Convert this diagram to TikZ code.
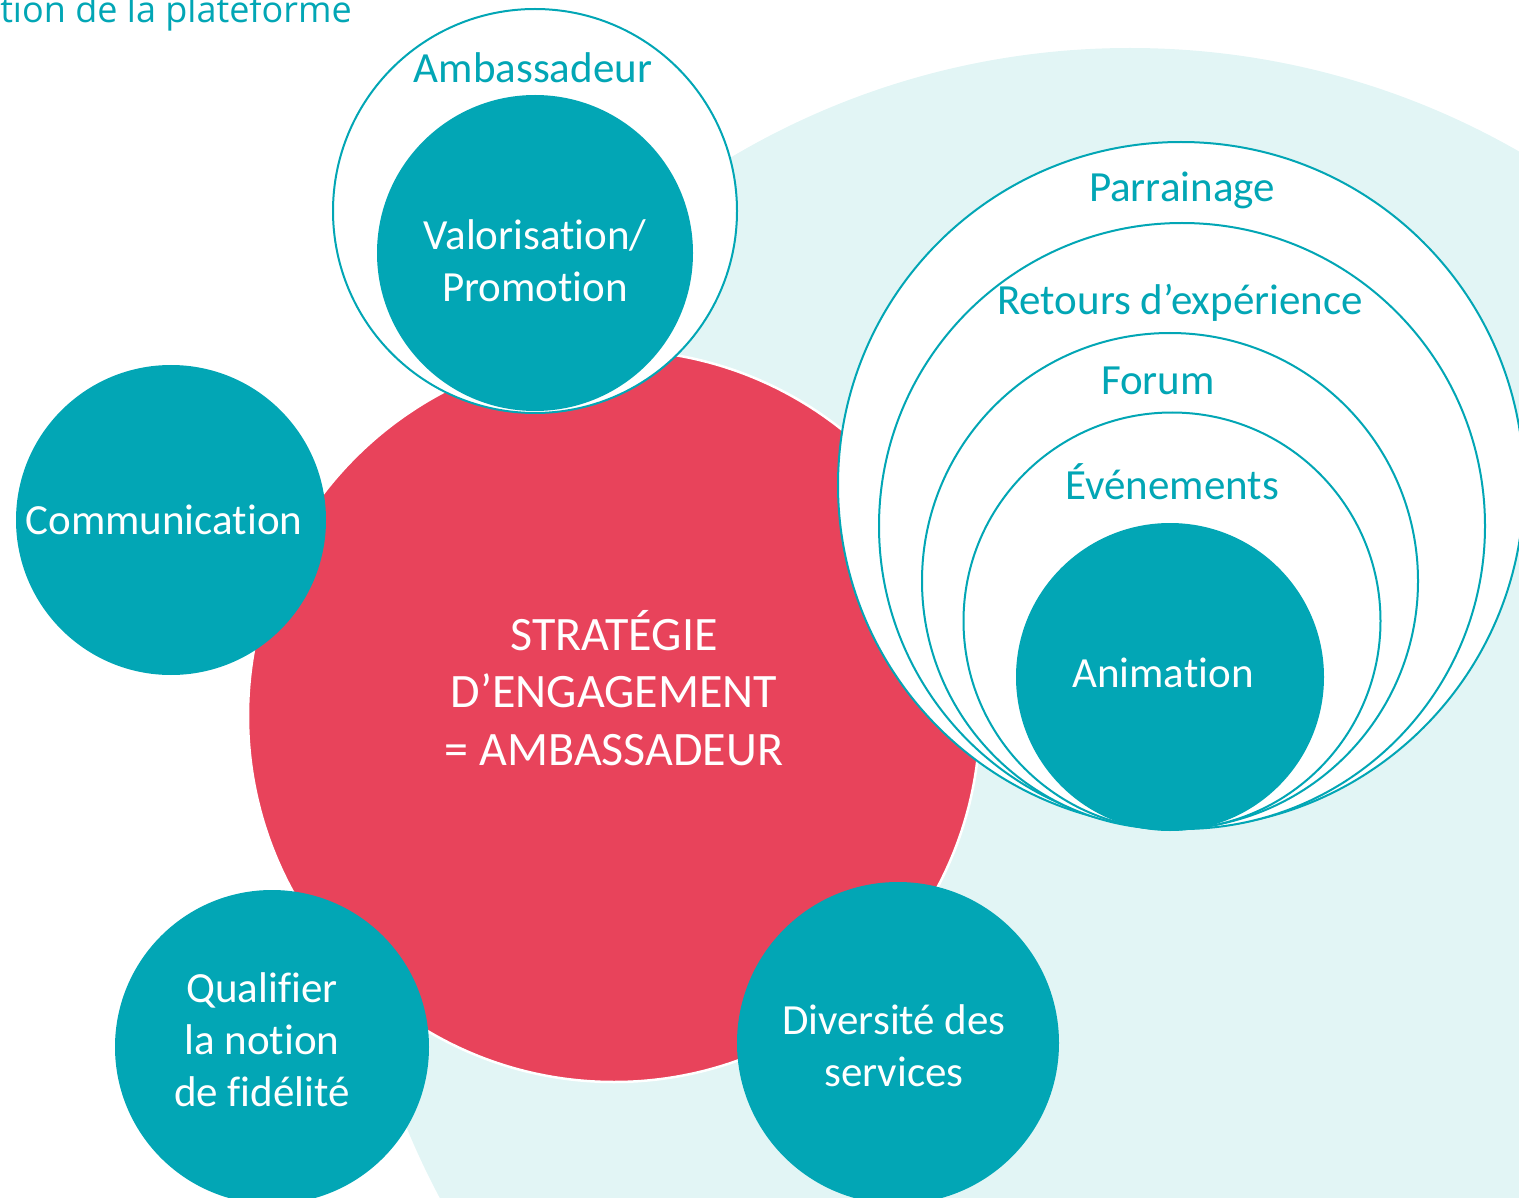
\documentclass[tikz,border=0pt]{standalone}
\usepackage{fontspec}
\setmainfont{Carlito}[Ligatures=NoCommon]
\newfontfamily\titlefont{Open Sans}
\definecolor{teal1}{HTML}{02A6B5}
\definecolor{lightbg}{HTML}{E2F5F5}
\definecolor{redc}{HTML}{E8435B}
\begin{document}
\begin{tikzpicture}[x=1pt,y=-1pt,
  tealdisc/.style={circle,fill=teal1,inner sep=0pt},
  disctext/.style={text=white,align=center,inner sep=0pt,font=\fontsize{43}{52}\selectfont},
  ring/.style={circle,draw=teal1,line width=2pt,fill=white,inner sep=0pt},
  ringlabel/.style={text=teal1,font=\fontsize{43}{50}\selectfont,inner sep=0pt}]
\useasboundingbox (0,0) rectangle (1519,1198);
\clip (0,0) rectangle (1519,1198);
% background
\fill[lightbg] (1130,830) circle (782);
% title fragment
\node[text=teal1,font=\titlefont\fontsize{36}{40}\selectfont,anchor=base east,inner sep=0pt] (title) at (352,23) {tion de la plateforme};
% central
\node[circle,fill=redc,draw=white,line width=2.5pt,minimum size=732pt,inner sep=0pt] (center) at (614,716) {};
\node[text=white,align=center,inner sep=0pt,font=\fontsize{48}{57.5}\selectfont] (centertxt) at (614,688) {STRATÉGIE\\D’ENGAGEMENT\\= AMBASSADEUR};
% satellites
\node[tealdisc,minimum size=310pt] (comm) at (171,520) {};
\node[disctext] (commtxt) at (164,520) {Communication};
\node[tealdisc,minimum size=314pt] (qual) at (272,1047) {};
\node[disctext] (qualtxt) at (262,1040) {Qualifier\\la notion\\de fidélité};
\node[tealdisc,minimum size=322pt] (div) at (898,1043) {};
\node[disctext] (divtxt) at (894,1046) {Diversité des\\services};
% ambassadeur
\node[ring,minimum size=404pt] (amb) at (535,211) {};
\node[ringlabel] (amblbl) at (533,68) {Ambassadeur};
\node[tealdisc,minimum size=316pt] (valo) at (535,253) {};
\node[disctext] (valotxt) at (535,261) {Valorisation/\\Promotion};
% right nested
\node[ring,minimum size=686pt] (parr) at (1181,485) {};
\node[ring,minimum size=606pt] (ret) at (1182,526) {};
\node[ring,minimum size=496pt] (forum) at (1170,581) {};
\node[ring,minimum size=417pt] (evt) at (1172,621) {};
\node[tealdisc,minimum size=308pt] (anim) at (1170,677) {};
\node[disctext] (animtxt) at (1163,673) {Animation};
\node[ringlabel] (parrlbl) at (1182,190) {Parrainage};
\node[ringlabel] (retlbl) at (1180,303) {Retours d’expérience};
\node[ringlabel] (forumlbl) at (1158,381) {Forum};
\node[ringlabel] (evtlbl) at (1172,482) {Événements};
\end{tikzpicture}
\end{document}
